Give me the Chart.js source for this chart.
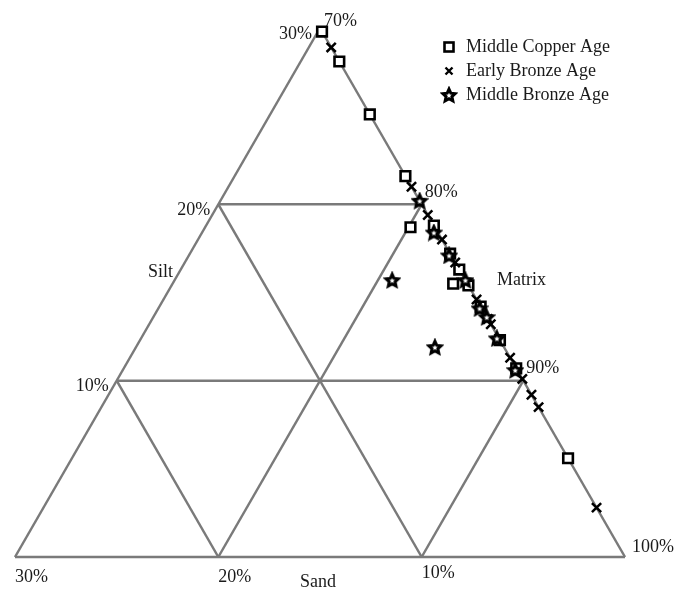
<!DOCTYPE html>
<html>
<head>
<meta charset="utf-8">
<title>Silt / Sand / Matrix</title>
<script src="https://cdn.jsdelivr.net/npm/chart.js@4.4.1/dist/chart.umd.min.js"></script>
<style>
  html, body { margin: 0; padding: 0; background: #fff; }
  #wrap { width: 674px; height: 597px; }
</style>
</head>
<body>
<div id="wrap"><canvas id="ternary" width="674" height="597"></canvas></div>
<script>
// sample composition, in percent (matrix = 100 - silt - sand)
const copperSilt = [29.8, 28.1, 25.1, 21.6, 18.7, 18.8, 17.2, 16.3, 15.5, 15.4, 14.2, 12.3, 10.7, 5.6];
const copperSand = [0, 0, 0, 0, 1.2, 0, 0, 0, 0.7, 0, 0, 0, 0, 0];

const earlySilt = [28.9, 21.0, 19.4, 18.0, 16.7, 14.6, 13.5, 13.2, 11.3, 10.1, 9.2, 8.5, 2.8];
const earlySand = [0, 0, 0, 0, 0, 0, 0, 0, 0, 0, 0, 0, 0];

const middleSilt = [20.2, 18.4, 17.1, 15.7, 14.1, 13.6, 12.4, 10.6, 15.7, 11.9];
const middleSand = [0, 0.2, 0.1, 0, 0.1, 0, 0.1, 0.1, 3.6, 3.4];

const seriesNames = ["Middle Copper Age", "Early Bronze Age", "Middle Bronze Age"];

// ternary ticks
const siltTicks = [10, 20, 30];
const sandTicks = [10, 20, 30];
const matrixTicks = [70, 80, 90, 100];
const axisTitles = ["Silt", "Sand", "Matrix"];

document.addEventListener("DOMContentLoaded", () => {
  const FONT = "18px 'Liberation Serif', 'Times New Roman', serif";
  const GRID = "#7a7a7a";
  const SQ3 = Math.sqrt(3) / 2;
  const maxPart = 30;

  // silt/sand -> cartesian, bottom edge runs from matrix 70 (left) to 100 (right)
  function toXY(silt, sand) {
    return { x: 100 - sand - silt / 2, y: silt * SQ3 };
  }

  function points(silt, sand) {
    return silt.map((s, i) => toXY(s, sand[i]));
  }

  // hollow five point star used as a point style
  function makeStar(size, outer, lw) {
    const c = document.createElement("canvas");
    c.width = c.height = size;
    const g = c.getContext("2d");
    const cx = size / 2, cy = size / 2 + 0.6;
    const inner = outer * 0.47;
    g.beginPath();
    for (let k = 0; k < 10; k++) {
      const r = k % 2 === 0 ? outer : inner;
      const a = -Math.PI / 2 + k * Math.PI / 5;
      const px = cx + r * Math.cos(a), py = cy + r * Math.sin(a);
      k === 0 ? g.moveTo(px, py) : g.lineTo(px, py);
    }
    g.closePath();
    g.fillStyle = "#fff";
    g.fill();
    g.lineWidth = lw;
    g.lineJoin = "miter";
    g.strokeStyle = "#000";
    g.stroke();
    return c;
  }
  const starImg = makeStar(18, 6.5, 3);

  // grid segments
  const segments = [];
  segments.push([toXY(0, maxPart), toXY(0, 0)]);
  segments.push([toXY(0, maxPart), toXY(maxPart, 0)]);
  segments.push([toXY(maxPart, 0), toXY(0, 0)]);
  siltTicks.filter(t => t < maxPart).forEach(t => {
    segments.push([toXY(t, maxPart - t), toXY(t, 0)]);
  });
  sandTicks.filter(t => t < maxPart).forEach(t => {
    segments.push([toXY(0, t), toXY(maxPart - t, t)]);
  });
  matrixTicks.filter(t => t > 100 - maxPart && t < 100).forEach(t => {
    segments.push([toXY(0, 100 - t), toXY(100 - t, 0)]);
  });

  const gridSets = segments.map(seg => ({
    label: "grid",
    data: seg,
    showLine: true,
    pointRadius: 0,
    borderColor: GRID,
    borderWidth: 2.5,
    clip: false,
    order: 10
  }));

  const markerSets = [
    {
      label: seriesNames[0],
      data: points(copperSilt, copperSand),
      pointStyle: "rect",
      pointRadius: 6.8,
      backgroundColor: "#fff",
      borderColor: "#000",
      borderWidth: 2.6,
      clip: false,
      order: 2
    },
    {
      label: seriesNames[1],
      data: points(earlySilt, earlySand),
      pointStyle: "crossRot",
      pointRadius: 6.5,
      borderColor: "#000",
      borderWidth: 2.5,
      clip: false,
      order: 1
    },
    {
      label: seriesNames[2],
      data: points(middleSilt, middleSand),
      pointStyle: starImg,
      pointRadius: 8,
      clip: false,
      order: 0
    }
  ];

  // tick labels, axis titles and legend
  const labelsPlugin = {
    id: "ternaryLabels",
    afterDraw(chart) {
      const c = chart.ctx;
      const xs = chart.scales.x, ys = chart.scales.y;
      const px = p => ({ x: xs.getPixelForValue(p.x), y: ys.getPixelForValue(p.y) });
      c.save();
      c.font = FONT;
      c.fillStyle = "#1a1a1a";
      c.textBaseline = "middle";

      // silt on the left edge
      c.textAlign = "right";
      siltTicks.forEach(t => {
        const p = px(toXY(t, maxPart - t));
        c.fillText(t + "%", p.x - 8, p.y + 6);
      });
      // matrix on the right edge
      c.textAlign = "left";
      matrixTicks.forEach(t => {
        const p = px(toXY(100 - t, 0));
        if (t === 100) c.fillText(t + "%", p.x + 7, p.y - 10);
        else if (t === 70) c.fillText(t + "%", p.x + 4, p.y - 7);
        else c.fillText(t + "%", p.x + 3, p.y - 12);
      });
      // sand along the bottom
      sandTicks.forEach(t => {
        const p = px(toXY(0, t));
        c.fillText(t + "%", p.x, p.y + (t === 10 ? 16 : 20));
      });

      c.textAlign = "center";
      const silt = px(toXY(maxPart / 2, maxPart / 2));
      c.fillText(axisTitles[0], silt.x - 7, silt.y - 20);
      const sand = px(toXY(0, maxPart / 2));
      c.fillText(axisTitles[1], sand.x - 2, sand.y + 25);
      const matrix = px(toXY(maxPart / 2, 0));
      c.fillText(axisTitles[2], matrix.x + 49, matrix.y - 12);

      // legend
      const lx = 449, ly = [47, 71, 95];
      c.textAlign = "left";
      seriesNames.forEach((name, i) => {
        c.fillStyle = "#1a1a1a";
        c.fillText(name, lx + 17, ly[i]);
      });
      c.lineWidth = 2.6;
      c.strokeStyle = "#000";
      c.fillStyle = "#fff";
      c.fillRect(lx - 4.5, ly[0] - 4.5, 9, 9);
      c.strokeRect(lx - 4.5, ly[0] - 4.5, 9, 9);
      c.lineWidth = 2.4;
      c.beginPath();
      c.moveTo(lx - 3.5, ly[1] - 3.5); c.lineTo(lx + 3.5, ly[1] + 3.5);
      c.moveTo(lx + 3.5, ly[1] - 3.5); c.lineTo(lx - 3.5, ly[1] + 3.5);
      c.stroke();
      c.drawImage(starImg, lx - 9, ly[2] - 9);
      c.restore();
    }
  };

  new Chart(document.getElementById("ternary"), {
    type: "scatter",
    data: { datasets: markerSets.concat(gridSets) },
    options: {
      responsive: false,
      animation: false,
      devicePixelRatio: 1,
      layout: { padding: { left: 15, right: 49, top: 28, bottom: 40 } },
      scales: {
        x: { type: "linear", min: 100 - maxPart, max: 100, display: false },
        y: { type: "linear", min: 0, max: maxPart * SQ3, display: false }
      },
      plugins: {
        legend: { display: false },
        tooltip: { enabled: false }
      }
    },
    plugins: [labelsPlugin]
  });
});
</script>
</body>
</html>
